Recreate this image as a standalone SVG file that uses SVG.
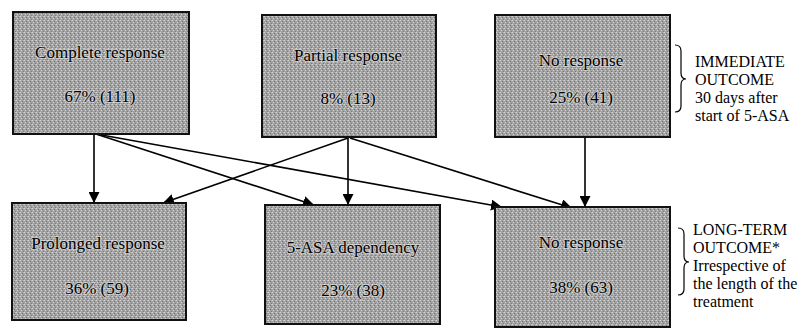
<svg xmlns="http://www.w3.org/2000/svg" width="801" height="331" viewBox="0 0 801 331">
  <defs>
    <!-- dithered grey fill used for every outcome box -->
    <pattern id="dither" width="4" height="4" patternUnits="userSpaceOnUse">
      <rect width="4" height="4" fill="#a2a2a2"/>
      <rect x="0" y="0" width="1" height="1" fill="#d6d6d6"/>
      <rect x="2" y="1" width="1" height="1" fill="#707070"/>
      <rect x="1" y="2" width="1" height="1" fill="#cfcfcf"/>
      <rect x="3" y="3" width="1" height="1" fill="#7a7a7a"/>
      <rect x="3" y="0" width="1" height="1" fill="#bdbdbd"/>
    </pattern>
    <marker id="arrow" viewBox="0 0 10 10" refX="10" refY="5" markerWidth="11" markerHeight="11" markerUnits="userSpaceOnUse" orient="auto">
      <path d="M0,0 L10,5 L0,10 Z" fill="#000"/>
    </marker>
    <style>
      .box { fill: url(#dither); stroke: #111; stroke-width: 2; }
      .lbl { font-family: "Liberation Serif", "Times New Roman", serif; font-size: 17px; fill: #000; text-anchor: middle;
             stroke: #e8e8e8; stroke-width: 2; stroke-opacity: 0.55; paint-order: stroke; }
      .side { font-family: "Liberation Serif", "Times New Roman", serif; font-size: 16px; fill: #000; }
      .conn { stroke: #000; stroke-width: 1.6; fill: none; marker-end: url(#arrow); }
      .brace { stroke: #000; stroke-width: 1.2; fill: none; }
    </style>
  </defs>

  <!-- connectors -->
  <g id="connectors">
    <line class="conn" x1="94" y1="134" x2="94" y2="203"/>
    <line class="conn" x1="96" y1="134" x2="314" y2="205"/>
    <line class="conn" x1="96" y1="134" x2="502" y2="207"/>
    <line class="conn" x1="348" y1="138" x2="163" y2="203"/>
    <line class="conn" x1="348" y1="138" x2="348" y2="205"/>
    <line class="conn" x1="350" y1="138" x2="572" y2="208"/>
    <line class="conn" x1="585" y1="137" x2="585" y2="207"/>
  </g>

  <!-- immediate outcome -->
  <g id="complete-response">
    <rect class="box" x="13" y="12" width="176" height="122"/>
    <text class="lbl" x="100" y="58">Complete response</text>
    <text class="lbl" x="100" y="102">67% (111)</text>
  </g>
  <g id="partial-response">
    <rect class="box" x="262" y="15" width="174" height="122"/>
    <text class="lbl" x="348" y="61">Partial response</text>
    <text class="lbl" x="348" y="104">8% (13)</text>
  </g>
  <g id="no-response-immediate">
    <rect class="box" x="495" y="15" width="175" height="122"/>
    <text class="lbl" x="581" y="66">No response</text>
    <text class="lbl" x="581" y="103">25% (41)</text>
  </g>

  <!-- long-term outcome -->
  <g id="prolonged-response">
    <rect class="box" x="12" y="203" width="174" height="117"/>
    <text class="lbl" x="98" y="249">Prolonged response</text>
    <text class="lbl" x="97" y="294">36% (59)</text>
  </g>
  <g id="asa-dependency">
    <rect class="box" x="265" y="205" width="175" height="119"/>
    <text class="lbl" x="353" y="253">5-ASA dependency</text>
    <text class="lbl" x="353" y="296">23% (38)</text>
  </g>
  <g id="no-response-longterm">
    <rect class="box" x="495" y="207" width="175" height="120"/>
    <text class="lbl" x="581" y="248">No response</text>
    <text class="lbl" x="581" y="293">38% (63)</text>
  </g>

  <!-- timing annotations -->
  <g id="immediate-note">
    <path class="brace" d="M675,45 Q681,45 681,51 L681,73 Q681,79 686,79 Q681,79 681,85 L681,106 Q681,112 675,112"/>
    <text class="side" x="695" y="67">IMMEDIATE</text>
    <text class="side" x="695" y="85">OUTCOME</text>
    <text class="side" x="695" y="103">30 days after</text>
    <text class="side" x="695" y="121">start of 5-ASA</text>
  </g>
  <g id="longterm-note">
    <path class="brace" d="M678,228 Q684,228 684,234 L684,256 Q684,262 689,262 Q684,262 684,268 L684,289 Q684,295 678,295"/>
    <text class="side" x="693" y="235">LONG-TERM</text>
    <text class="side" x="693" y="253">OUTCOME*</text>
    <text class="side" x="693" y="271">Irrespective of</text>
    <text class="side" x="693" y="289">the length of the</text>
    <text class="side" x="693" y="307">treatment</text>
  </g>
</svg>
